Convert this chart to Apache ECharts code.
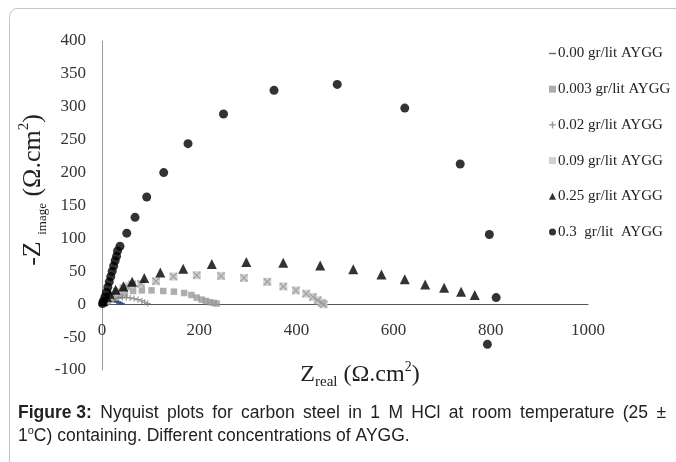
<!DOCTYPE html>
<html>
<head>
<meta charset="utf-8">
<script src="https://cdn.jsdelivr.net/npm/echarts@6/dist/echarts.min.js"></script>
<style>
  html, body { margin: 0; padding: 0; background: #fff; }
  #chart { width: 676px; height: 462px; }
</style>
</head>
<body>
<div id="chart"></div>
<script>
// legend names
const names = ['0.00 gr/lit AYGG', '0.003 gr/lit AYGG', '0.02 gr/lit AYGG', '0.09 gr/lit AYGG', '0.25 gr/lit AYGG', '0.3  gr/lit  AYGG']

// (Zreal, -Zimag)
const zr000 = [1, 4, 8, 12, 17, 22, 27, 32, 36, 40]
const zi000 = [1, 2.5, 3.5, 4.5, 5, 5, 4.5, 3.5, 2, 0.5]

const zr0003 = [2, 6, 12, 18, 25, 35, 47, 64, 82, 102, 126, 148, 169, 184, 195, 205, 214, 222, 230, 236]
const zi0003 = [1, 3, 5, 7, 10, 13, 16, 20, 21, 21, 20, 19, 17, 14, 10, 7, 5, 3, 2, 1]

const zr002 = [3, 8, 14, 20, 27, 34, 42, 50, 58, 66, 74, 82, 88, 94]
const zi002 = [2, 4, 6, 7.5, 8.5, 9.5, 10, 10, 9.5, 8.5, 7, 5, 3, 1]

const zr009 = [3, 8, 14, 22, 31, 44, 51, 62, 80, 111, 147, 195, 245, 292, 340, 373, 399, 420, 434, 444, 452, 456]
const zi009 = [2, 6, 10, 15, 19, 24, 27, 30, 31, 35, 42, 44, 43, 40, 34, 27, 21, 16, 11, 6, 2, 0]

const zr025 = [3, 10, 16, 28, 44, 62, 87, 120, 167, 226, 297, 373, 449, 517, 575, 623, 665, 704, 739, 767]
const zi025 = [5, 11, 16, 22, 27, 34, 40, 48, 54, 61, 64, 63, 59, 53, 45, 38, 30, 25, 19, 14]

const zr03 = [1, 3, 6, 9, 12, 15, 18, 21, 24, 27, 30, 32, 37, 51, 68, 92, 127, 177, 250, 354, 484, 623, 737, 797, 811, 793]
const zi03 = [1, 5, 11, 18, 26, 34, 42, 50, 58, 66, 73, 81, 88, 108, 132, 163, 200, 244, 289, 325, 334, 298, 213, 106, 10, -61]

const xTicks = { min: 0, max: 1000, step: 200 }
const yTicks = { min: -100, max: 400, step: 50 }

const pairs = (xs, ys) => xs.map((x, i) => [x, ys[i]])

const serif = 'Liberation Serif'
const dashPath = 'path://M0,4 L10,4 L10,6 L0,6 Z'
const plusPath = 'path://M0,4 L10,4 L10,6 L0,6 Z M4,0 L6,0 L6,10 L4,10 Z'
const crossPath = 'path://M0,1.2 L1.2,0 L10,8.8 L8.8,10 Z M8.8,0 L10,1.2 L1.2,10 L0,8.8 Z'

// grid box; x axis sits on y = 0
const gridTop = 41, gridH = 329
const zeroOffset = -gridH * (0 - yTicks.min) / (yTicks.max - yTicks.min)

// justified first caption line: a thin space after every space
const cap1 = ' Nyquist plots for carbon steel in 1 M HCl at room temperature (25 ±'.replace(/ /g, ' \u2009')

let chart = echarts.init(document.getElementById('chart'))

let option = {
  backgroundColor: '#fff',
  animation: false,
  grid: { left: 102, top: gridTop, width: 486, height: gridH },
  legend: {
    orient: 'vertical',
    left: 549,
    top: 46,
    itemWidth: 7,
    itemHeight: 7,
    itemGap: 20.7,
    padding: 0,
    data: [
      { name: names[0], icon: dashPath },
      { name: names[1] },
      { name: names[2] },
      { name: names[3] },
      { name: names[4] },
      { name: names[5] }
    ],
    textStyle: { fontFamily: serif, fontSize: 15, color: '#222', padding: [0, 0, 0, -3] }
  },
  xAxis: {
    type: 'value',
    min: xTicks.min,
    max: xTicks.max,
    interval: xTicks.step,
    offset: zeroOffset,
    axisLine: { onZero: false, lineStyle: { color: '#555', width: 1 } },
    axisTick: { show: false },
    splitLine: { show: false },
    axisLabel: { margin: 18, fontFamily: serif, fontSize: 17, color: '#333', formatter: v => String(v) }
  },
  yAxis: {
    type: 'value',
    min: yTicks.min,
    max: yTicks.max,
    interval: yTicks.step,
    axisLine: { show: true, onZero: false, lineStyle: { color: '#999', width: 1 } },
    axisTick: { show: false },
    splitLine: { show: false },
    axisLabel: { margin: 16, fontFamily: serif, fontSize: 17, color: '#333' }
  },
  graphic: [
    {
      // thin frame round the figure
      type: 'rect', silent: true, z: -1,
      shape: { x: 9.5, y: 8.5, width: 720, height: 500, r: 8 },
      style: { fill: 'none', stroke: '#c4c4c4', lineWidth: 1 }
    },
    {
      type: 'text', x: 33, y: 190, rotation: Math.PI / 2,
      style: {
        text: '{m|-Z }{s|image}{m| (Ω.cm}{p|2}{m|)}',
        align: 'center', verticalAlign: 'middle',
        rich: {
          m: { fontFamily: serif, fontSize: 26, lineHeight: 32, fill: '#222' },
          s: { fontFamily: serif, fontSize: 13, lineHeight: 32, verticalAlign: 'bottom', fill: '#222' },
          p: { fontFamily: serif, fontSize: 15, lineHeight: 32, verticalAlign: 'top', fill: '#222' }
        }
      }
    },
    {
      type: 'text', x: 360, y: 375,
      style: {
        text: '{m|Z}{s|real}{m| (Ω.cm}{p|2}{m|)}',
        align: 'center', verticalAlign: 'middle',
        rich: {
          m: { fontFamily: serif, fontSize: 24, lineHeight: 30, fill: '#222' },
          s: { fontFamily: serif, fontSize: 15, lineHeight: 30, verticalAlign: 'bottom', fill: '#222' },
          p: { fontFamily: serif, fontSize: 14, lineHeight: 30, verticalAlign: 'top', fill: '#222' }
        }
      }
    },
    {
      type: 'text', x: 18, y: 402,
      style: {
        text: '{b|Figure 3:}{n|' + cap1 + '}\n{n|1}{p|o}{n|C) containing. Different concentrations of AYGG.}',
        rich: {
          b: { fontFamily: 'Liberation Sans', fontWeight: 'bold', fontSize: 17.5, lineHeight: 23, fill: '#222' },
          n: { fontFamily: 'Liberation Sans', fontSize: 17.5, lineHeight: 23, fill: '#222' },
          p: { fontFamily: 'Liberation Sans', fontSize: 11, lineHeight: 23, verticalAlign: 'top', fill: '#222' }
        }
      }
    }
  ],
  series: [
    {
      name: names[0], type: 'scatter', symbol: 'rect', symbolSize: [7, 2],
      itemStyle: { color: '#2b4a7a' }, data: pairs(zr000, zi000)
    },
    {
      name: names[1], type: 'scatter', symbol: 'rect', symbolSize: 6.5,
      itemStyle: { color: '#9a9a9a' }, data: pairs(zr0003, zi0003)
    },
    {
      name: names[2], type: 'scatter', symbol: plusPath, symbolSize: 6,
      itemStyle: { color: '#7a7a7a' }, data: pairs(zr002, zi002)
    },
    {
      name: names[3], type: 'scatter', symbol: 'rect', symbolSize: 8,
      itemStyle: { color: '#c6c6c6' }, data: pairs(zr009, zi009)
    },
    {
      // the X drawn over the light squares
      name: names[3], type: 'scatter', symbol: crossPath, symbolSize: 8,
      itemStyle: { color: '#999' }, data: pairs(zr009, zi009)
    },
    {
      name: names[4], type: 'scatter', symbol: 'triangle', symbolSize: 10,
      itemStyle: { color: '#000' }, data: pairs(zr025, zi025)
    },
    {
      name: names[5], type: 'scatter', symbol: 'circle', symbolSize: 9,
      itemStyle: { color: '#000' }, data: pairs(zr03, zi03)
    }
  ]
}

chart.setOption(option)
</script>
</body>
</html>
